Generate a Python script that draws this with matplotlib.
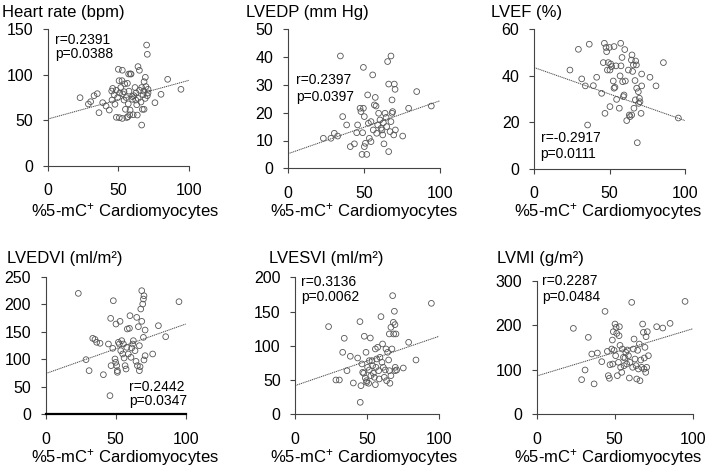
import matplotlib
matplotlib.use("Agg")
import matplotlib.pyplot as plt
import numpy as np

plt.rcParams["font.family"] = ["Liberation Sans", "DejaVu Sans"]
plt.rcParams["mathtext.fontset"] = "custom"
plt.rcParams["mathtext.rm"] = "Liberation Sans"
plt.rcParams["mathtext.it"] = "Liberation Sans:italic"

# ---- data ----
hr_x = [22.9, 28.8, 30.4, 32.8, 35.1, 36.3, 38.9, 41.3, 43.6, 45.5, 45.3, 47.6, 48.6, 50.0,
        50.7, 51.7, 52.8, 50.5, 52.6, 54.0, 54.0, 52.8, 56.4, 57.3, 59.0, 58.3, 56.8, 59.9,
        62.3, 61.8, 63.4, 63.9, 64.9, 66.5, 68.2, 69.1, 68.2, 70.0, 70.5, 75.9, 80.2, 84.9,
        94.3, 47.0, 48.5, 49.5, 51.0, 53.0, 55.0, 55.5, 57.0, 58.0, 60.0, 61.0, 62.5, 63.0,
        64.0, 65.0, 66.0, 66.5, 67.0, 67.5, 68.0, 69.0, 69.5, 70.5, 71.0, 71.0, 60.5, 58.5,
        56.0, 54.5, 46.0, 57.5]
hr_y = [74.8, 67.8, 70.4, 77.0, 79.2, 58.3, 69.3, 65.6, 61.2, 72.2, 82.1, 67.5, 53.2, 106.0,
        52.8, 86.0, 105.0, 93.5, 93.5, 81.4, 72.2, 52.0, 90.6, 100.8, 100.8, 61.2, 53.9, 76.0,
        72.2, 86.0, 55.7, 109.0, 104.9, 44.7, 92.4, 97.2, 62.0, 132.7, 122.5, 69.3, 78.5, 95.0,
        84.0, 78.0, 83.0, 75.0, 80.0, 79.0, 62.0, 75.0, 68.0, 56.0, 73.0, 77.0, 80.0, 67.0,
        74.0, 83.0, 70.0, 86.0, 62.0, 78.0, 82.0, 74.0, 87.0, 77.0, 80.0, 84.0, 56.0, 101.0,
        53.0, 90.0, 85.0, 82.0]

edp_x = [23.4, 28.4, 30.6, 32.8, 34.6, 36.1, 38.7, 41.1, 43.8, 45.3, 45.9, 47.5, 48.1, 48.8,
         49.2, 49.7, 49.7, 50.3, 51.0, 50.3, 51.9, 52.5, 53.0, 53.6, 54.7, 54.7, 55.8, 56.2,
         56.9, 57.5, 58.0, 58.4, 59.1, 59.7, 60.6, 61.3, 61.9, 62.4, 62.8, 63.2, 63.9, 64.6,
         65.0, 65.6, 66.3, 66.3, 67.2, 67.8, 67.8, 68.5, 68.5, 68.9, 69.6, 70.0, 70.5, 70.7,
         75.5, 79.4, 84.7, 94.3]
edp_y = [10.8, 10.8, 12.6, 11.6, 40.4, 18.6, 15.6, 7.8, 8.8, 12.8, 15.6, 21.6, 20.4, 5.0,
         12.8, 21.6, 36.3, 18.6, 9.0, 7.8, 5.0, 26.4, 16.2, 10.8, 9.6, 16.8, 33.6, 13.8,
         22.8, 25.5, 22.4, 12.6, 15.6, 19.8, 17.4, 14.4, 13.8, 12.0, 16.4, 8.8, 19.8, 18.3,
         15.0, 38.4, 6.0, 30.3, 13.2, 16.8, 40.4, 19.8, 24.6, 20.4, 12.0, 30.3, 28.4, 13.8,
         11.6, 21.6, 27.6, 22.4]

ef_x = [23.8, 29.4, 31.6, 34.0, 36.6, 35.5, 39.3, 41.5, 44.8, 45.9, 46.6, 47.0, 47.7, 48.1,
        48.6, 49.2, 49.9, 50.3, 50.3, 50.8, 51.4, 53.0, 52.5, 53.0, 53.6, 54.3, 54.7, 56.5,
        57.0, 57.4, 57.6, 58.3, 58.7, 59.2, 59.6, 60.1, 60.5, 61.4, 62.5, 63.1, 63.6, 64.5,
        64.7, 64.9, 65.3, 65.8, 66.2, 66.9, 67.1, 67.3, 67.8, 68.0, 68.4, 69.1, 69.3, 69.8,
        70.2, 70.9, 71.3, 71.3, 76.8, 80.8, 85.7, 95.6]
ef_y = [42.5, 51.4, 38.7, 35.7, 53.6, 18.9, 35.8, 39.4, 32.5, 45.7, 54.0, 23.9, 52.2, 50.4,
        42.5, 45.7, 52.2, 42.5, 26.8, 45.1, 44.0, 52.6, 37.8, 34.7, 35.1, 44.3, 29.9, 26.1,
        40.0, 54.0, 44.3, 47.9, 37.5, 31.1, 31.8, 51.3, 37.8, 20.8, 42.5, 23.2, 22.5, 46.8,
        23.2, 49.0, 41.9, 44.7, 26.1, 38.0, 29.7, 46.4, 44.7, 34.7, 11.3, 33.2, 28.2, 30.4,
        28.9, 23.9, 35.7, 40.8, 39.4, 35.7, 45.7, 21.9]

edvi_x = [23.3, 28.8, 31.0, 33.6, 35.2, 36.4, 38.8, 41.2, 44.8, 45.9, 46.4, 46.7, 47.9, 48.3,
          49.5, 50.0, 50.2, 50.7, 51.2, 51.2, 51.9, 52.6, 53.1, 53.6, 54.3, 55.0, 55.5, 56.0,
          56.7, 57.4, 57.9, 58.3, 59.0, 59.8, 60.2, 60.9, 61.4, 62.1, 62.6, 63.8, 64.5, 65.0,
          65.5, 66.2, 66.9, 66.9, 67.4, 67.9, 68.6, 68.6, 69.3, 69.8, 70.2, 71.0, 69.8, 70.2,
          71.0, 76.4, 80.5, 85.7, 95.2]
edvi_y = [219.7, 99.3, 79.3, 138.0, 136.0, 130.8, 129.0, 72.0, 127.7, 33.9, 174.3, 88.4, 119.9,
          206.4, 100.5, 94.4, 164.0, 88.4, 79.3, 76.3, 130.8, 127.7, 168.9, 115.6, 133.8, 109.6,
          127.7, 102.3, 88.4, 82.3, 121.7, 155.0, 109.6, 156.2, 179.2, 103.5, 120.5, 127.7,
          133.8, 115.6, 96.2, 176.1, 88.4, 159.2, 124.7, 79.3, 86.5, 191.3, 224.6, 168.9, 200.3,
          209.4, 215.4, 153.1, 139.8, 98.7, 106.5, 109.6, 161.0, 141.0, 204.6]

esvi_x = [23.1, 28.2, 30.6, 32.9, 34.0, 35.9, 38.2, 40.3, 43.3, 44.9, 45.1, 45.6, 46.3, 46.8,
          47.5, 47.9, 48.6, 49.1, 49.5, 49.5, 50.2, 50.9, 51.4, 51.4, 52.1, 52.5, 53.2, 53.7,
          54.2, 54.9, 55.6, 55.6, 56.0, 56.5, 57.2, 57.9, 58.3, 58.8, 59.5, 60.2, 60.6, 61.1,
          61.8, 62.5, 63.0, 63.4, 64.1, 64.8, 65.3, 65.3, 65.7, 66.4, 66.4, 67.1, 67.6, 68.1,
          68.3, 68.8, 69.2, 69.4, 69.4, 69.9, 70.4, 75.0, 78.7, 83.8, 94.5]
esvi_y = [128.0, 50.1, 50.1, 90.5, 111.0, 63.7, 84.7, 45.7, 82.2, 135.3, 17.5, 41.8, 73.5, 61.3,
          59.9, 113.9, 53.0, 90.5, 49.1, 46.7, 68.6, 45.3, 64.7, 78.3, 111.4, 56.4, 78.3, 71.0,
          59.9, 54.0, 95.4, 43.3, 68.6, 80.8, 97.8, 63.7, 51.6, 83.2, 142.6, 75.9, 102.7, 68.6,
          54.0, 64.7, 95.4, 49.1, 90.5, 79.3, 63.7, 117.3, 45.3, 56.4, 127.0, 95.4, 173.2, 134.3,
          117.3, 150.4, 130.9, 68.6, 63.7, 117.3, 64.7, 67.6, 105.1, 79.3, 162.0]

lvmi_x = [23.5, 28.8, 31.0, 33.1, 35.3, 36.8, 38.9, 41.7, 43.8, 45.3, 45.9, 46.6, 47.0, 48.1,
          48.5, 48.7, 49.1, 49.6, 50.2, 50.6, 50.9, 51.3, 51.7, 52.4, 52.8, 53.0, 53.4, 53.8,
          54.5, 54.9, 55.6, 56.0, 56.6, 57.1, 57.7, 58.1, 58.8, 59.4, 59.8, 60.9, 61.5, 62.0,
          62.4, 63.0, 63.7, 64.1, 64.7, 65.2, 65.8, 66.2, 66.7, 67.3, 67.9, 68.4, 68.8, 69.0,
          69.4, 69.9, 70.1, 70.5, 70.9, 71.6, 76.9, 80.8, 85.5, 95.1]
lvmi_y = [193.0, 77.8, 99.5, 172.8, 135.4, 68.3, 137.6, 118.2, 231.1, 141.4, 86.8, 80.8, 111.4,
          146.6, 166.8, 112.9, 185.5, 143.6, 202.7, 131.6, 195.2, 181.7, 86.8, 116.7, 176.5,
          196.7, 154.8, 105.5, 94.2, 146.6, 127.9, 109.2, 126.4, 139.1, 112.9, 144.4, 131.6,
          81.5, 116.7, 251.3, 105.5, 146.6, 169.0, 124.1, 109.2, 79.3, 143.6, 101.7, 157.8,
          75.5, 121.9, 105.5, 202.7, 184.0, 101.7, 126.4, 150.3, 94.2, 174.3, 105.5, 185.5,
          131.6, 196.7, 193.7, 204.2, 253.5]

titles = ["Heart rate (bpm)", "LVEDP (mm Hg)", "LVEF (%)",
          "LVEDVI (ml/m\u00b2)", "LVESVI (ml/m\u00b2)", "LVMI (g/m\u00b2)"]
xs = [hr_x, edp_x, ef_x, edvi_x, esvi_x, lvmi_x]
ys = [hr_y, edp_y, ef_y, edvi_y, esvi_y, lvmi_y]
y_max = [150, 50, 60, 250, 200, 300]
y_step = [50, 10, 20, 50, 50, 100]
# regression lines: intercept, slope
fit_a = [51.3, 5.2, 43.6, 74.0, 42.0, 86.0]
fit_b = [0.426, 0.191, -0.228, 0.90, 0.72, 1.06]
r_text = ["r=0.2391", "r=0.2397", "r=-0.2917", "r=0.2442", "r=0.3136", "r=0.2287"]
p_text = ["p=0.0388", "p=0.0397", "p=0.0111", "p=0.0347", "p=0.0062", "p=0.0484"]

W, H = 709, 468
# axes boxes in pixels: left, right, top, bottom
boxes = [(47.7, 189.0, 29.3, 165.7), (287.7, 440.0, 29.3, 168.3), (534.0, 685.0, 29.3, 169.0),
         (45.7, 185.7, 276.7, 414.3), (295.3, 439.3, 277.3, 414.3), (536.7, 692.7, 280.7, 414.3)]
title_pos = [(2, 12), (246, 12), (491, 12), (7, 259), (269, 259), (497, 259)]
xlab_pos = [(125, 211), (364, 211), (608, 211), (125, 457), (364, 457), (608, 457)]
stat_pos = [(0.052, 0.92, 0.82), (0.055, 0.635, 0.51), (0.044, 0.22, 0.107),
            (0.597, 0.20, 0.099), (0.04, 0.963, 0.854), (0.032, 0.995, 0.88)]

fig = plt.figure(figsize=(W / 100, H / 100), dpi=100)
axis_color = "#444444"

for i in range(6):
    l, r, t, b = boxes[i]
    ax = fig.add_axes([l / W, 1 - b / H, (r - l) / W, (b - t) / H])
    ax.scatter(xs[i], ys[i], s=17, facecolors="none", edgecolors="#555555",
               linewidths=0.6, clip_on=False, zorder=3)
    lx = np.array([0, 100])
    ax.plot(lx, fit_a[i] + fit_b[i] * lx, color="#444444", lw=0.7,
            ls=(0, (1.2, 0.8)), zorder=2)
    ax.set_xlim(0, 100)
    ax.set_ylim(0, y_max[i])
    ax.set_xticks([0, 50, 100])
    ax.set_yticks(np.arange(0, y_max[i] + 1, y_step[i]))
    for side in ("top", "right"):
        ax.spines[side].set_visible(False)
    for side in ("left", "bottom"):
        ax.spines[side].set_color(axis_color)
        ax.spines[side].set_linewidth(0.8)
    if i == 3:
        ax.spines["bottom"].set_color("black")
        ax.spines["bottom"].set_linewidth(1.6)
    ax.tick_params(direction="out", length=3.5, width=0.8, color=axis_color,
                   labelsize=11.5)
    ax.tick_params(axis="y", pad=7)
    ax.tick_params(axis="x", pad=9)
    sx, ry, py = stat_pos[i]
    ax.text(sx, ry, r_text[i], transform=ax.transAxes, fontsize=10, va="center", ha="left")
    ax.text(sx, py, p_text[i], transform=ax.transAxes, fontsize=10, va="center", ha="left")
    tx, ty = title_pos[i]
    fig.text(tx / W, 1 - ty / H, titles[i], fontsize=12, ha="left", va="center")
    xx, xy = xlab_pos[i]
    fig.text(xx / W, 1 - xy / H, "%5-mC$^{+}$ Cardiomyocytes", fontsize=12,
             ha="center", va="center")

fig.savefig("out.png", dpi=100)
